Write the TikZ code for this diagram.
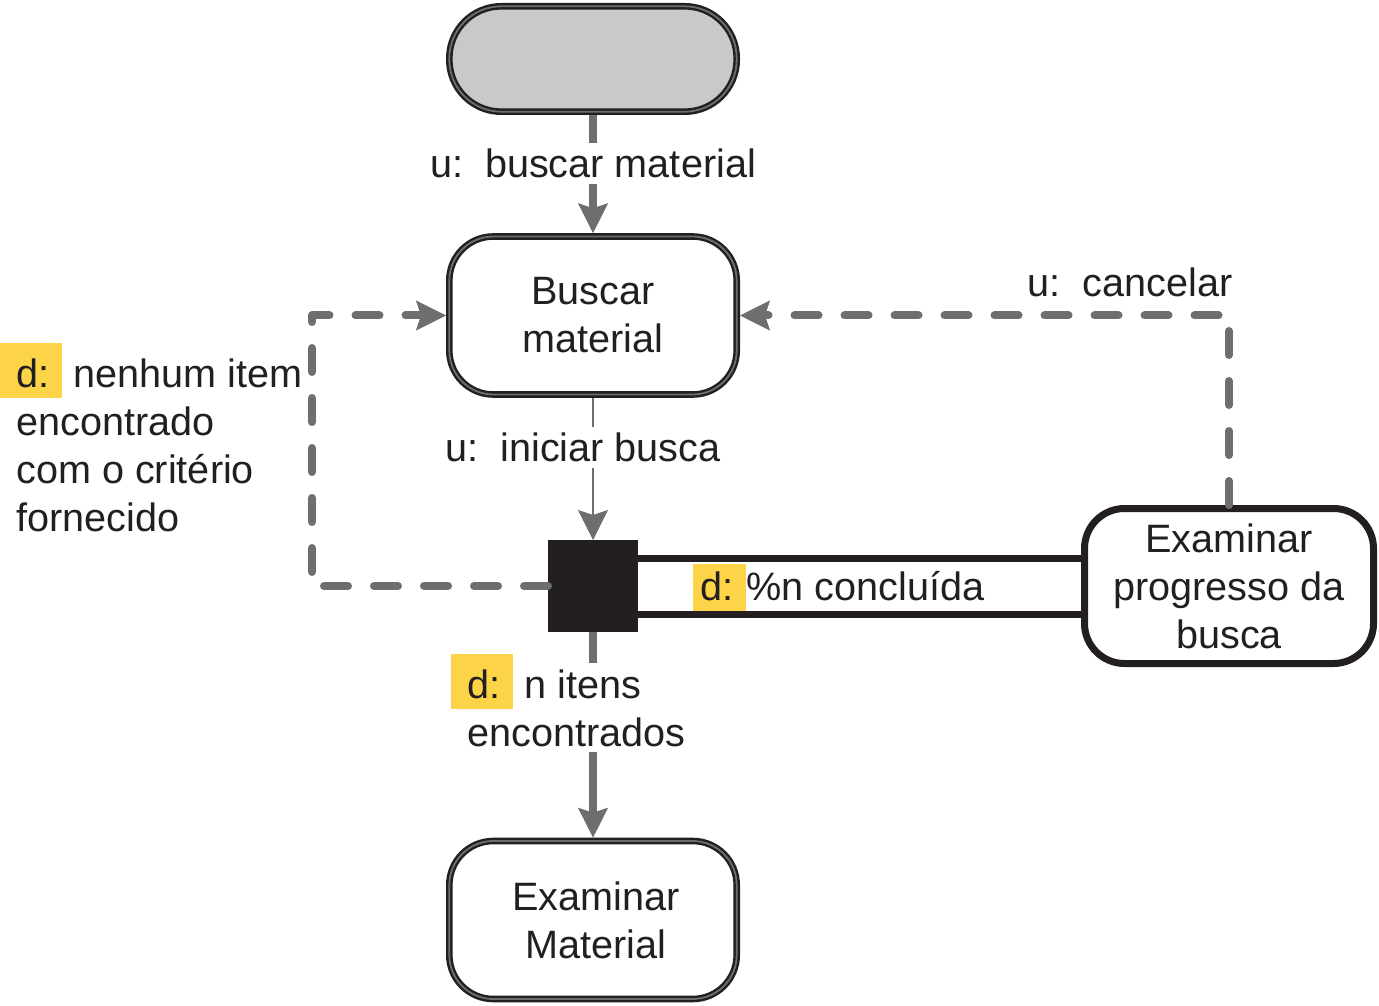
\documentclass[tikz,border=0pt]{standalone}
\usepackage{fontspec}
\setmainfont{Liberation Sans}
\usepackage{tikz}
\usetikzlibrary{arrows.meta}

\definecolor{tinta}{HTML}{231F20}
\definecolor{cinza}{HTML}{6D6E70}
\definecolor{cinzaclaro}{HTML}{C8C9CA}
\definecolor{amarelo}{HTML}{FDD348}

\newcommand{\dtag}[2][22pt]{\hspace*{-#2}\smash{\setlength{\fboxsep}{0pt}\colorbox{amarelo}{\rule[-5.5pt]{0pt}{\dimexpr#1+5.5pt\relax}\hspace{#2}d:\hspace{6.5pt}}}}

\tikzset{
  estado/.style={rectangle, rounded corners=22pt, draw=tinta, line width=1.2pt, double=cinza, double distance=0.9pt, minimum width=143.7pt, minimum height=79pt, outer sep=1.65pt, align=center, text=tinta},
  terminal/.style={estado, fill=cinzaclaro, rounded corners=26pt, minimum height=52.7pt},
  juncao/.style={rectangle, fill=tinta, minimum width=45pt, minimum height=46pt, inner sep=0pt, outer sep=0pt},
  progresso/.style={rectangle, rounded corners=20pt, draw=tinta, line width=3.5pt, minimum width=144.5pt, minimum height=77.5pt, align=center, text=tinta},
  rotulo/.style={text=tinta, inner sep=0pt},
  fundo/.style={fill=white, inner sep=3pt},
  ponta/.style={-{Stealth[length=15pt, width=15pt, inset=2.5pt, line width=0.5pt]}},
  fluxo/.style={draw=cinza, line width=4pt, ponta},
  fino/.style={draw=cinza, line width=1pt, ponta},
  tracejado/.style={draw=cinza, line width=4pt, dash pattern=on 12pt off 13pt, line cap=round, line join=round, ponta},
  ligacao/.style={draw=tinta, line width=3.5pt, double=white, double distance=24.5pt}
}

\begin{document}
\begin{tikzpicture}[x=0.5pt, y=0.5pt, font=\fontsize{19.8}{24}\selectfont]
\useasboundingbox (0,0) rectangle (1379,-1005);

\node[terminal] (inicio) at (593,-59) {};
\node[estado] (buscar) [below of=inicio, node distance=128.25pt] {Buscar\\material};
\node[juncao] (juncao) [below of=buscar, node distance=135.25pt] {};
\node[estado] (examinar) [below of=juncao, node distance=167pt] {\hspace*{3pt}Examinar\\\hspace*{3pt}Material};
\node[progresso] (progr) [right of=juncao, node distance=318pt] {Examinar\\progresso da\\busca};
\coordinate (desvio) at (312,0);

\draw[fluxo] (inicio) -- node[rotulo, fundo, pos=0.41] (lbuscar) {u:\ \ buscar material} (buscar);
\draw[fino] (buscar) -- node[rotulo, fundo, pos=0.35, xshift=-5pt] (liniciar) {u:\ \ iniciar busca} (juncao);
\draw[fluxo] (juncao) -- (examinar);
\draw[ligacao] (juncao.east) -- (juncao.east -| progr.west);
\draw[tracejado] (juncao.west) -- (juncao.west -| desvio) -- (buscar.west -| desvio) -- (buscar.west);
\draw[tracejado] (progr.north) |- (buscar.east);

\node[rotulo, anchor=base east] (lcancelar) at (1233,-297) {u:\ \ cancelar};
\node[rotulo, anchor=base west] (lpct) at (700,-600) {\dtag[18pt]{3.5pt}\%n concluída};
\node[rotulo, fundo, align=left, anchor=north west] (litens) at (461,-663) {\dtag{8pt}\ n itens\\encontrados};
\node[rotulo, align=left, anchor=north west] (lnenhum) at (16,-358) {\dtag{8pt}\ nenhum item\\encontrado\\com o critério\\fornecido};

\end{tikzpicture}
\end{document}
